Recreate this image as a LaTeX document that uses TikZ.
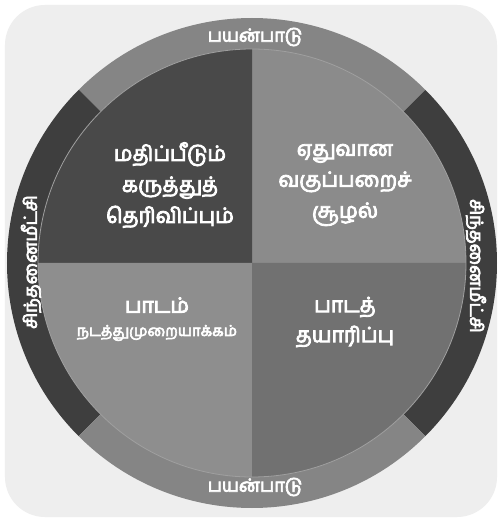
\documentclass[tikz,border=0pt]{standalone}
\usepackage{fontspec}
\newfontfamily\tamil[Script=Tamil,FakeBold=4]{Hind Madurai}
\definecolor{panel}{HTML}{EEEEEE}
\definecolor{ringlight}{HTML}{858585}
\definecolor{ringdark}{HTML}{3E3E3E}
\definecolor{quadTL}{HTML}{494949}
\definecolor{quadTR}{HTML}{8B8B8B}
\definecolor{quadBL}{HTML}{8E8E8E}
\definecolor{quadBR}{HTML}{717171}

\begin{document}
\begin{tikzpicture}[x=1pt,y=1pt,
  quadlab/.style={text=white,align=center,font=\tamil\fontsize{21}{31}\selectfont},
  ringlab/.style={text=white,font=\tamil\fontsize{18}{20}\selectfont}]
\useasboundingbox (-252,-259) rectangle (248,263);
\fill[white] (-252,-259) rectangle (248,263);
\fill[panel,rounded corners=40pt] (-247,-254) rectangle (245,258);
\foreach \a/\c in {-45/ringdark,45/ringlight,135/ringdark,225/ringlight}
  \fill[\c] (0,0) -- (\a:245) arc (\a:\a+90:245) -- cycle;
\foreach \a/\c in {0/quadTR,90/quadTL,180/quadBL,270/quadBR}
  \fill[\c] (0,0) -- (\a:214) arc (\a:\a+90:214) -- cycle;
\draw[gray!75,line width=0.8pt] (0,0) circle (214);
\node[quadlab] (assess) at (-82,78) {மதிப்பீடும்\\கருத்துத்\\தெரிவிப்பும்};
\node[quadlab] (climate) at (93,78) {ஏதுவான\\வகுப்பறைச்\\சூழல்};
\node[quadlab] (lesson) at (-95,-42) {பாடம்};
\node[text=white,font=\tamil\fontsize{15}{18}\selectfont] (method) at (-95,-70) {நடத்துமுறையாக்கம்};
\node[quadlab,font=\tamil\fontsize{21}{30}\selectfont] (prep) at (93,-59) {பாடத்\\தயாரிப்பு};
\node[ringlab] (usetop) at (3,226) {பயன்பாடு};
\node[ringlab] (usebot) at (3,-224) {பயன்பாடு};
\node[ringlab,rotate=90] (reflleft) at (-221,1) {சிந்தனைமீட்சி};
\node[ringlab,rotate=-90] (reflright) at (224,-3) {சிந்தனைமீட்சி};
\end{tikzpicture}
\end{document}
